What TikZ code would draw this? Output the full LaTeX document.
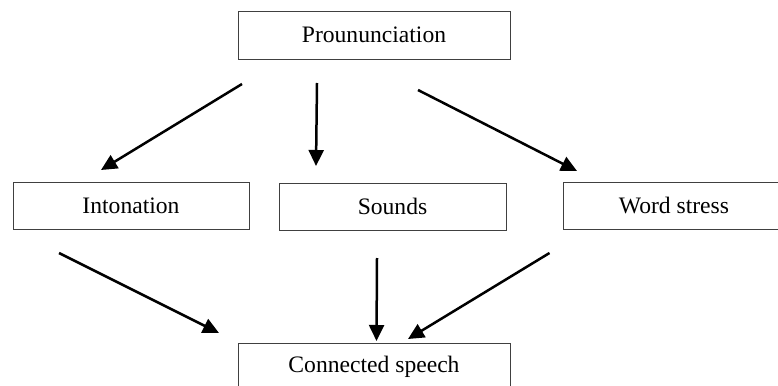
\documentclass[tikz,border=0pt]{standalone}
\usepackage{fontspec}
\setmainfont{Liberation Serif}
\usetikzlibrary{arrows.meta}
\begin{document}
\begin{tikzpicture}[x=1pt,y=-1pt,
  box/.style={draw=black!75, line width=0.9pt, inner sep=0pt,
    font=\fontsize{23.6}{28}\selectfont},
  flow/.style={line width=2.5pt, -{Triangle[length=16pt,width=15pt]}}]
  \useasboundingbox (0,0) rectangle (778,385);

  % boxes
  \node[box, minimum width=272pt, minimum height=48pt] (pron) at (374,35) {Proununciation};
  \node[box, minimum width=236pt, minimum height=47pt] (inton) at (131,205.5) {Intonation};
  \node[box, minimum width=227pt, minimum height=47pt] (sounds) at (392.5,206.5) {Sounds};
  \node[box, minimum width=222pt, minimum height=47pt] (stress) at (674,205.5) {Word stress};
  \node[box, minimum width=272pt, minimum height=47pt] (conn) at (374,366.5) {Connected speech};

  % arrow end points (arrows float between the boxes)
  \coordinate (pl) at (242,84);   \coordinate (il) at (101,170);
  \coordinate (pm) at (317,83);   \coordinate (sm) at (316,166);
  \coordinate (pr) at (418,90);   \coordinate (wr) at (577,171);
  \coordinate (ib) at (59,253);   \coordinate (cl) at (219,333);
  \coordinate (sb) at (377,258);  \coordinate (cm) at (376.5,341);
  \coordinate (wb) at (549.5,253);\coordinate (cr) at (408,339);

  \draw[flow] (pl) -- (il);
  \draw[flow] (pm) -- (sm);
  \draw[flow] (pr) -- (wr);
  \draw[flow] (ib) -- (cl);
  \draw[flow] (sb) -- (cm);
  \draw[flow] (wb) -- (cr);
\end{tikzpicture}
\end{document}
